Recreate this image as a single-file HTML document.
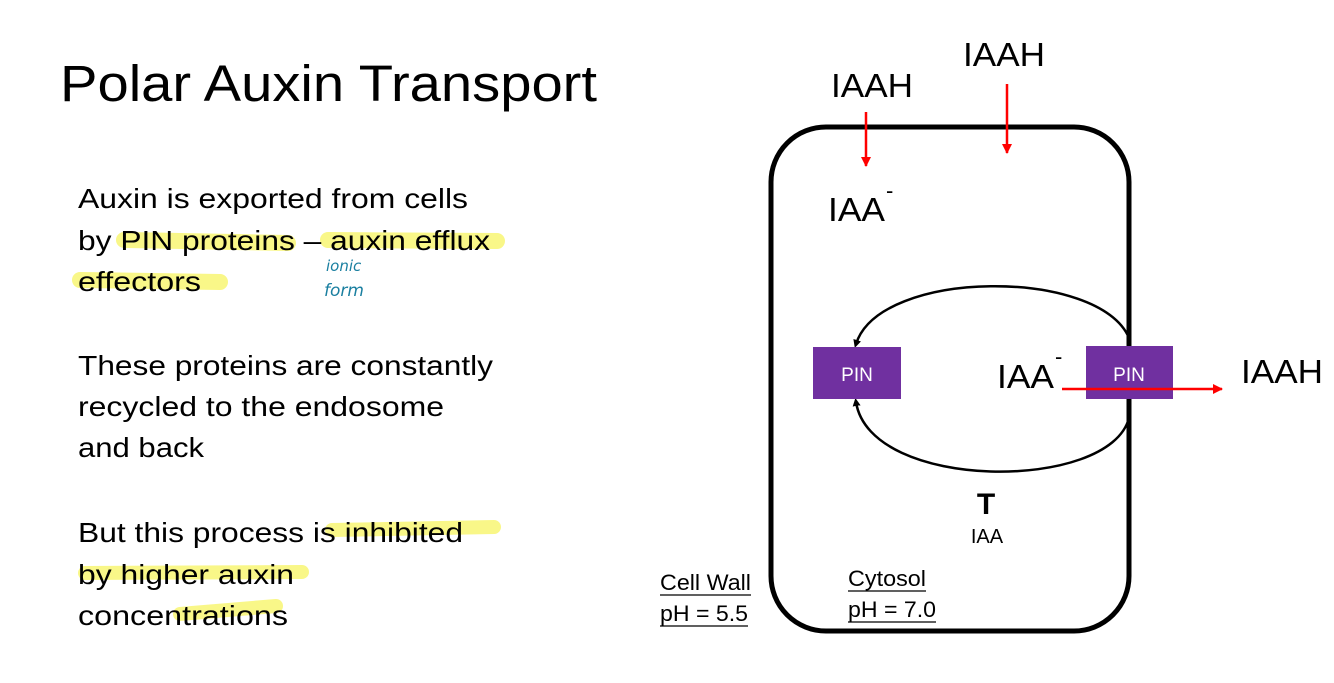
<!DOCTYPE html>
<html><head><meta charset="utf-8"><style>
html,body{margin:0;padding:0;background:#fff;}
svg{display:block;font-family:"Liberation Sans",sans-serif;}
</style></head><body>
<svg width="1334" height="683" viewBox="0 0 1334 683" xmlns="http://www.w3.org/2000/svg">
<defs>
<marker id="bk" markerWidth="8" markerHeight="8" refX="4" refY="4" orient="auto" markerUnits="userSpaceOnUse"><path d="M0,0 L8,4 L0,8 z" fill="#000"/></marker>
<marker id="rd" markerWidth="10" markerHeight="10" refX="9" refY="5" orient="auto" markerUnits="userSpaceOnUse"><path d="M0,0 L10,5 L0,10 z" fill="#f00"/></marker>
</defs>
<g stroke="#f7f56a" stroke-opacity="0.8" stroke-linecap="round" fill="none">
<path d="M124,240 L288,243" stroke-width="16"/>
<path d="M328,240 L497,241" stroke-width="16"/>
<path d="M80,280 L220,282" stroke-width="16"/>
<path d="M332,530 L494,527" stroke-width="14"/>
<path d="M85,573 L302,572" stroke-width="14"/>
<path d="M180,614 L276,606" stroke-width="14"/>
</g>
<text x="60" y="101" font-size="51" textLength="537" lengthAdjust="spacingAndGlyphs">Polar Auxin Transport</text>
<g font-size="28" fill="#000">
<text x="78" y="208" textLength="390" lengthAdjust="spacingAndGlyphs">Auxin is exported from cells</text>
<text x="78" y="250" textLength="412" lengthAdjust="spacingAndGlyphs">by PIN proteins – auxin efflux</text>
<text x="78" y="291" textLength="123" lengthAdjust="spacingAndGlyphs">effectors</text>
<text x="78" y="375" textLength="415" lengthAdjust="spacingAndGlyphs">These proteins are constantly</text>
<text x="78" y="416" textLength="366" lengthAdjust="spacingAndGlyphs">recycled to the endosome</text>
<text x="78" y="457" textLength="126" lengthAdjust="spacingAndGlyphs">and back</text>
<text x="78" y="542" textLength="385" lengthAdjust="spacingAndGlyphs">But this process is inhibited</text>
<text x="78" y="584" textLength="216" lengthAdjust="spacingAndGlyphs">by higher auxin</text>
<text x="78" y="625" textLength="210" lengthAdjust="spacingAndGlyphs">concentrations</text>
</g>
<text x="326" y="271" font-size="15" font-style="italic" fill="#1a7fa0" font-family="'DejaVu Sans',sans-serif">ionic</text>
<text x="324" y="296" font-size="17" font-style="italic" fill="#1a7fa0" font-family="'DejaVu Sans',sans-serif">form</text>
<rect x="771" y="127" width="358" height="504" rx="55" fill="none" stroke="#000" stroke-width="5"/>
<path d="M1129,338 C1100,268 880,268 856,344" fill="none" stroke="#000" stroke-width="2.5" marker-end="url(#bk)"/>
<path d="M1129,418 C1110,492 870,492 856,402" fill="none" stroke="#000" stroke-width="2.5" marker-end="url(#bk)"/>
<rect x="813" y="347" width="88" height="52" fill="#7030a0"/>
<rect x="1086" y="346" width="87" height="53" fill="#7030a0"/>
<text x="857" y="381" font-size="19" fill="#fff" text-anchor="middle">PIN</text>
<text x="1129" y="381" font-size="19" fill="#fff" text-anchor="middle">PIN</text>
<line x1="866" y1="112" x2="866" y2="166" stroke="#f00" stroke-width="2.5" marker-end="url(#rd)"/>
<line x1="1007" y1="84" x2="1007" y2="153" stroke="#f00" stroke-width="2.5" marker-end="url(#rd)"/>
<line x1="1062" y1="389" x2="1222" y2="389" stroke="#f00" stroke-width="2.5" marker-end="url(#rd)"/>
<g font-size="33" fill="#000">
<text x="831" y="97" textLength="82" lengthAdjust="spacingAndGlyphs">IAAH</text>
<text x="963" y="66" textLength="82" lengthAdjust="spacingAndGlyphs">IAAH</text>
<text x="1241" y="383" textLength="82" lengthAdjust="spacingAndGlyphs">IAAH</text>
<text x="828" y="221" textLength="57" lengthAdjust="spacingAndGlyphs">IAA</text>
<text x="997" y="388" textLength="57" lengthAdjust="spacingAndGlyphs">IAA</text>
</g>
<text x="886" y="198" font-size="22">-</text>
<text x="1055" y="364" font-size="22">-</text>
<text x="986" y="514" font-size="30" font-weight="bold" text-anchor="middle">T</text>
<text x="987" y="543" font-size="20" text-anchor="middle">IAA</text>
<g font-size="22" fill="#000">
<text x="660" y="590" textLength="91" lengthAdjust="spacingAndGlyphs">Cell Wall</text>
<text x="660" y="621" textLength="88" lengthAdjust="spacingAndGlyphs">pH = 5.5</text>
<text x="848" y="586" textLength="78" lengthAdjust="spacingAndGlyphs">Cytosol</text>
<text x="848" y="617" textLength="88" lengthAdjust="spacingAndGlyphs">pH = 7.0</text>
</g>
<g stroke="#000" stroke-width="1.3">
<line x1="660" y1="595" x2="751" y2="595"/>
<line x1="660" y1="626" x2="748" y2="626"/>
<line x1="848" y1="591" x2="926" y2="591"/>
<line x1="848" y1="622" x2="936" y2="622"/>
</g>
</svg>
</body></html>
